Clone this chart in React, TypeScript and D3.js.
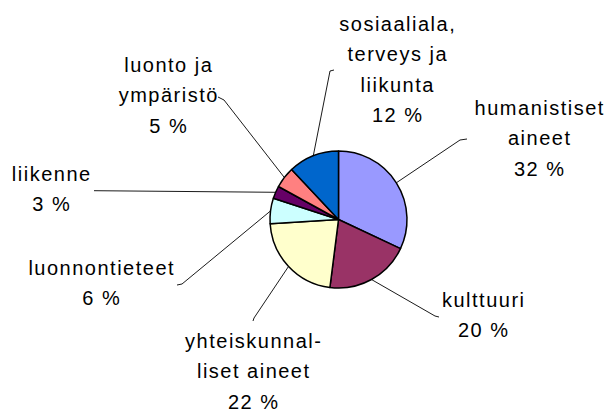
import React from "react";
import * as d3 from "d3";

const categories = [
  "humanistiset aineet",
  "kulttuuri",
  "yhteiskunnalliset aineet",
  "luonnontieteet",
  "liikenne",
  "luonto ja ympäristö",
  "sosiaaliala, terveys ja liikunta",
];
const values = [32, 20, 22, 6, 3, 5, 12];
const labelLines = [
  ["humanistiset", "aineet"],
  ["kulttuuri"],
  ["yhteiskunnal-", "liset aineet"],
  ["luonnontieteet"],
  ["liikenne"],
  ["luonto ja", "ympäristö"],
  ["sosiaaliala,", "terveys ja", "liikunta"],
];
const colors = ["#9999FF", "#993366", "#FFFFCC", "#CCFFFF", "#660066", "#FF8080", "#0066CC"];

// label layout: center x, first baseline y, elbow point, tick end point
const labelLayout = [
  { x: 539, y: 115, ex: 460, ey: 140, tx: 467, ty: 139 },
  { x: 483, y: 307, ex: 435, ey: 316, tx: 439, ty: 317 },
  { x: 253, y: 348, ex: 254, ey: 318, tx: 253, ty: 321 },
  { x: 101, y: 275, ex: 182, ey: 284, tx: 177, ty: 285 },
  { x: 51, y: 181, ex: 94, ey: 190.7, tx: 94, ty: 190.7 },
  { x: 168, y: 72, ex: 224, ey: 100, tx: 218, ty: 97 },
  { x: 397, y: 30.7, ex: 330, ey: 71, tx: 334, ty: 70 },
];

const W = 612;
const H = 409;
const CX = 338.5;
const CY = 219.5;
const R = 68.5;
const LINE_H = 30.4;

export default function App() {
  const pie = d3.pie<number>().sort(null).value((d) => d)(values);
  const arc = d3.arc<d3.PieArcDatum<number>>().innerRadius(0).outerRadius(R);
  const edge = d3.arc<d3.PieArcDatum<number>>().innerRadius(R).outerRadius(R);

  return (
    <svg
      width={W}
      height={H}
      style={{ position: "absolute", left: 0, top: 0, background: "#fff" }}
      fontFamily="'Liberation Sans', Arial, sans-serif"
    >
      <rect width={W} height={H} fill="#fff" />
      <g>
        {pie.map((p, i) => {
          const [sx, sy] = edge.centroid(p);
          const L = labelLayout[i];
          const pts: [number, number][] = [
            [CX + sx, CY + sy],
            [L.ex, L.ey],
            [L.tx, L.ty],
          ];
          return (
            <path
              key={"l" + i}
              d={d3.line()(pts) || ""}
              fill="none"
              stroke="#000"
              strokeWidth={0.9}
            />
          );
        })}
      </g>
      <g transform={`translate(${CX},${CY})`}>
        {pie.map((p, i) => (
          <path
            key={categories[i]}
            d={arc(p) || ""}
            fill={colors[i]}
            stroke="#000"
            strokeWidth={1.5}
            strokeLinejoin="round"
          />
        ))}
      </g>
      <g fontSize={20} fill="#000" letterSpacing={1.5}>
        {labelLines.map((lines, i) => {
          const L = labelLayout[i];
          const all = [...lines, `${values[i]} %`];
          return (
            <text key={"t" + i} textAnchor="middle">
              {all.map((s, j) => (
                <tspan key={j} x={L.x + 0.75} y={L.y + j * LINE_H}>
                  {s}
                </tspan>
              ))}
            </text>
          );
        })}
      </g>
    </svg>
  );
}
